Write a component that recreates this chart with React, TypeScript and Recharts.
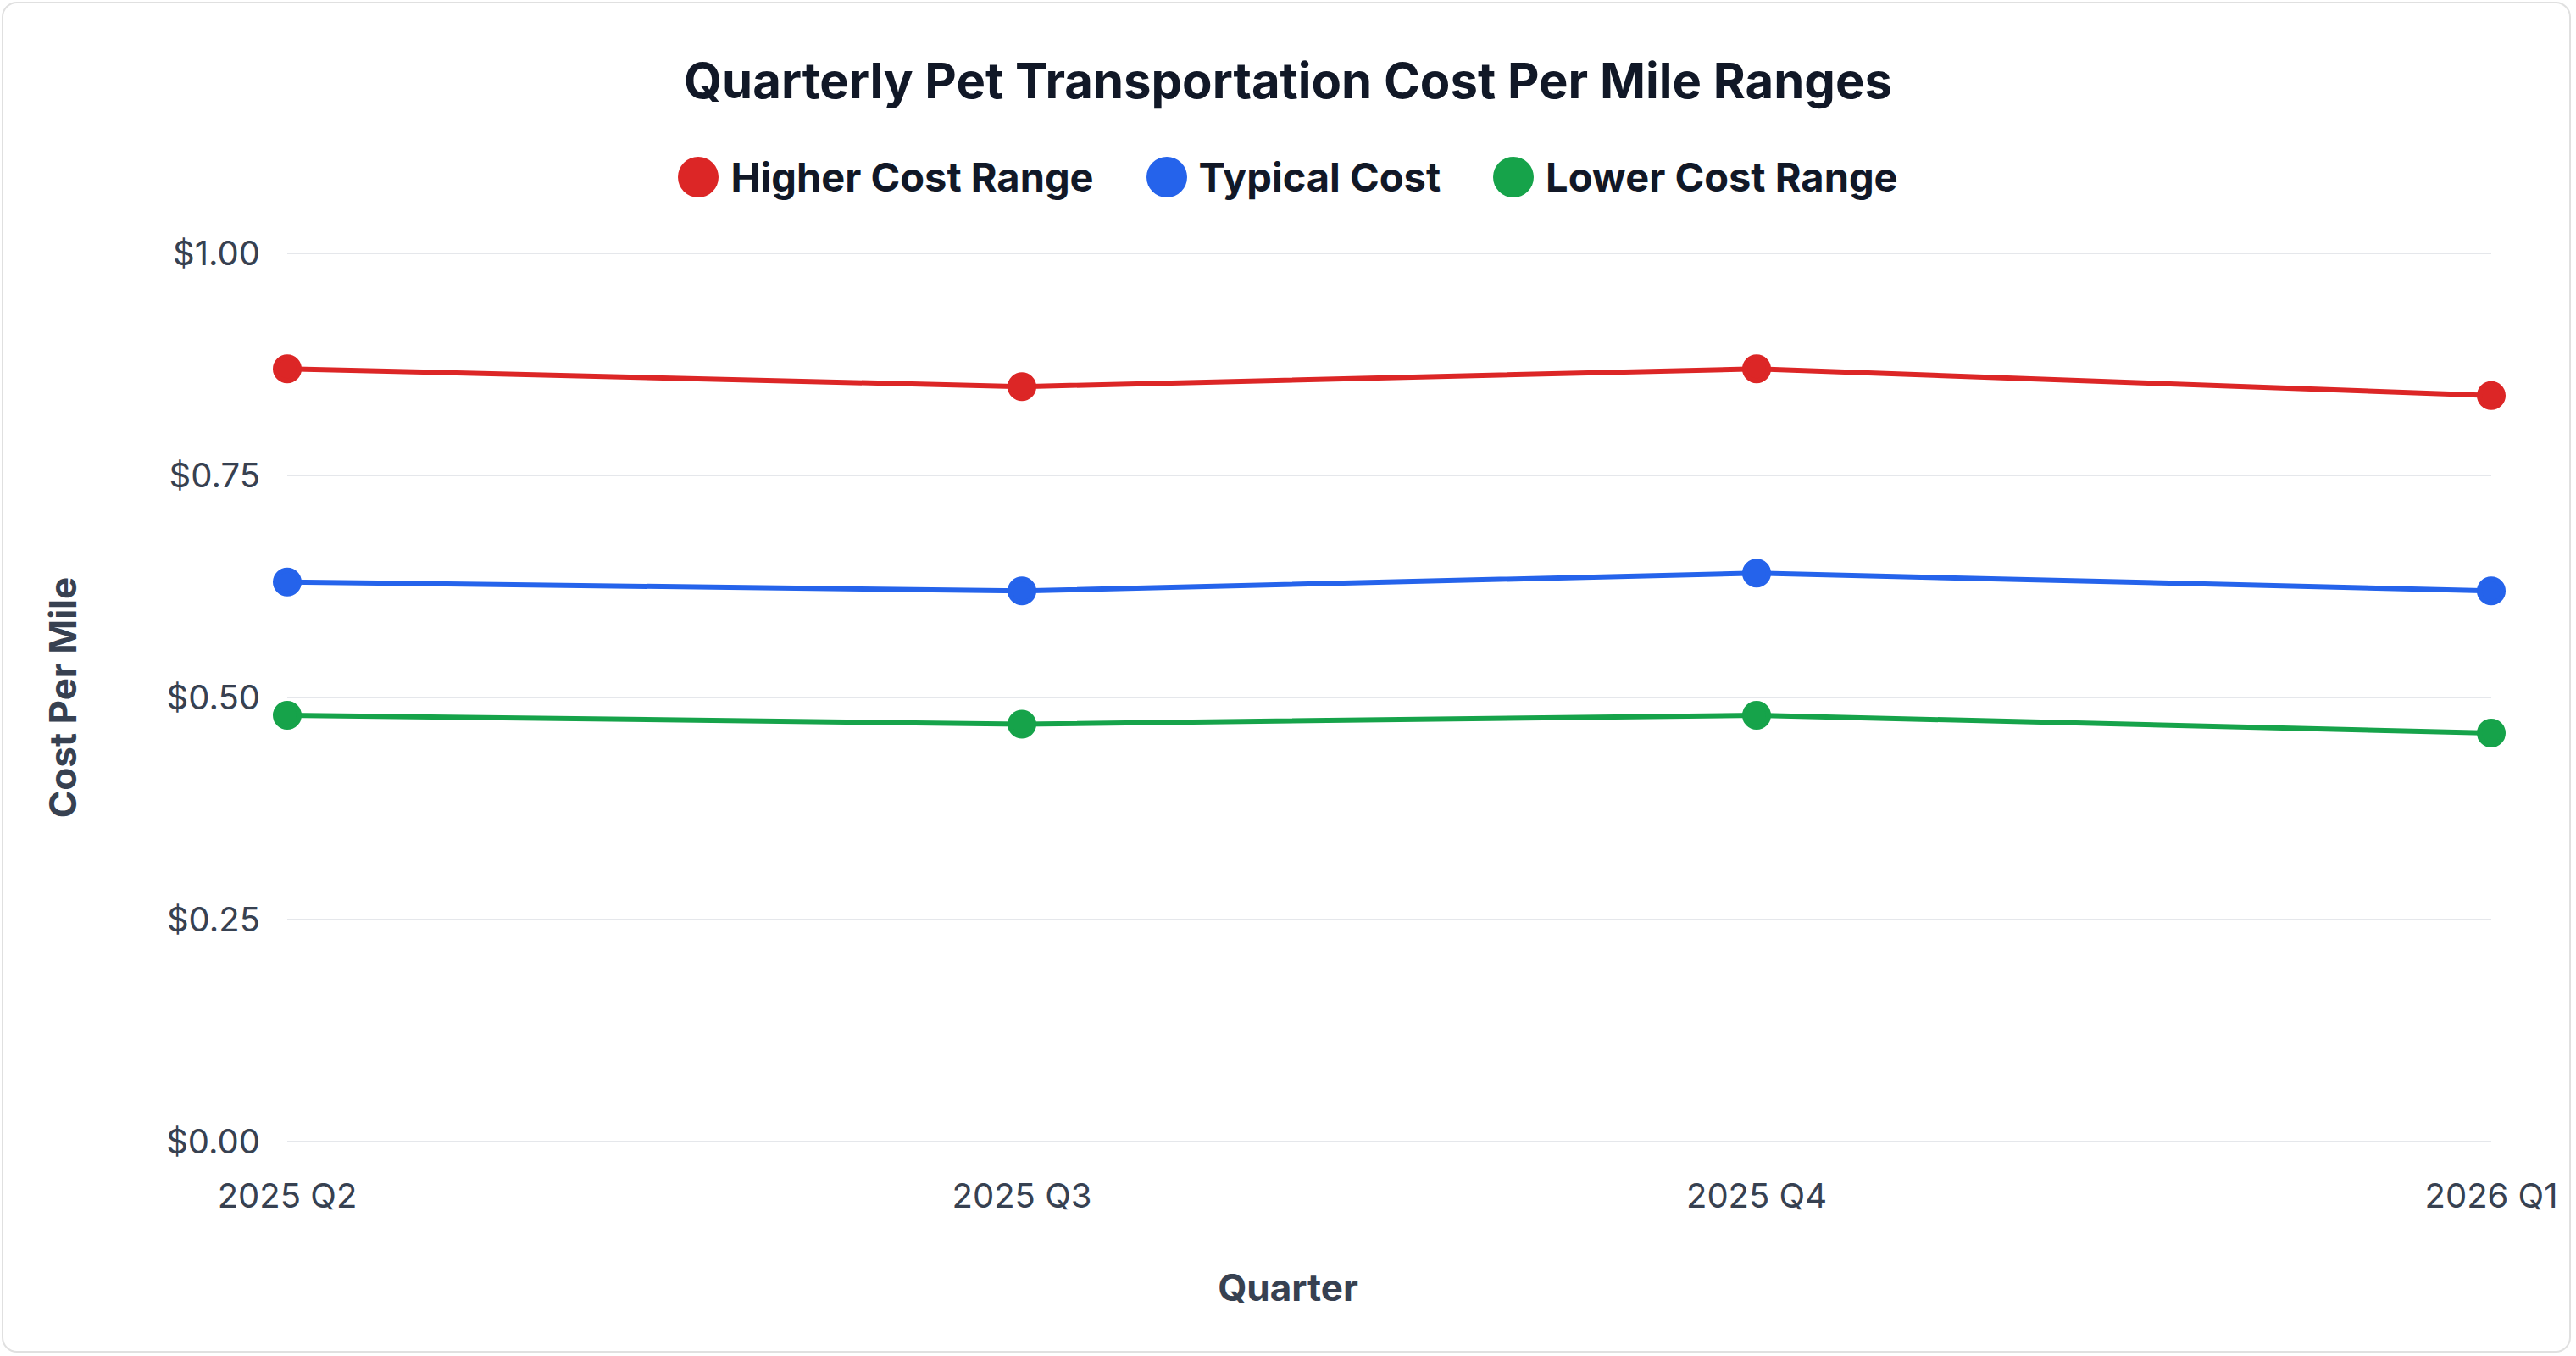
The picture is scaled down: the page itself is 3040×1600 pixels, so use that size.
import React from "react";
import { LineChart, Line, XAxis, YAxis, CartesianGrid } from "recharts";

const quarters = ["2025 Q2", "2025 Q3", "2025 Q4", "2026 Q1"];
const higher = [0.87, 0.85, 0.87, 0.84];
const typical = [0.63, 0.62, 0.64, 0.62];
const lower = [0.48, 0.47, 0.48, 0.46];
const yTicks = [0, 0.25, 0.5, 0.75, 1];
const seriesNames = ["Higher Cost Range", "Typical Cost", "Lower Cost Range"];
const seriesColors = ["#dc2626", "#2563eb", "#16a34a"];

const data = quarters.map((q, i) => ({ q, higher: higher[i], typical: typical[i], lower: lower[i] }));
const FONT = "Inter, 'Helvetica Neue', Arial, sans-serif";

export default function App() {
  return (
    <div style={{ position: "absolute", left: 0, top: 0, width: 3040, height: 1600, background: "#fff" }}>
      <div style={{ position: "absolute", left: 2, top: 2, width: 3032, height: 1594, border: "2px solid #e0e0e0", borderRadius: 18, boxSizing: "border-box" }} />
      <div style={{ position: "absolute", top: 60, width: 3040, textAlign: "center", fontFamily: FONT, fontWeight: 700, fontSize: 58, color: "#111827" }}>
        Quarterly Pet Transportation Cost Per Mile Ranges
      </div>
      <div style={{ position: "absolute", top: 180, width: 3040, display: "flex", justifyContent: "center", gap: 62, fontFamily: FONT, fontWeight: 700, fontSize: 47, color: "#111827" }}>
        {seriesNames.map((n, i) => (
          <div key={n} style={{ display: "flex", alignItems: "center" }}>
            <span style={{ width: 48, height: 48, borderRadius: 24, background: seriesColors[i], display: "inline-block", marginRight: 14 }} />
            {n}
          </div>
        ))}
      </div>
      <div style={{ position: "absolute", top: 1492, width: 3040, textAlign: "center", fontFamily: FONT, fontWeight: 700, fontSize: 44, color: "#374151" }}>
        Quarter
      </div>
      <LineChart width={3040} height={1600} data={data} margin={{ top: 299, right: 100, bottom: 223, left: 0 }}>
        <CartesianGrid vertical={false} stroke="#e5e7eb" strokeWidth={2} />
        <XAxis dataKey="q" tickLine={false} axisLine={false} padding={{ left: 0, right: 0 }} interval={0}
          tick={{ fontFamily: FONT, fontSize: 40, fill: "#374151" }} dy={42} />
        <YAxis width={339} domain={[0, 1]} ticks={yTicks} tickLine={false} axisLine={false}
          tickFormatter={(v: number) => `$${v.toFixed(2)}`} tick={{ fontFamily: FONT, fontSize: 40, fill: "#374151" }} dx={-24}
          label={{ value: "Cost Per Mile", angle: -90, position: "insideLeft", offset: 74, style: { textAnchor: "middle", fontFamily: FONT, fontSize: 44, fontWeight: 700, fill: "#374151" } }} />
        <Line dataKey="higher" name={seriesNames[0]} stroke={seriesColors[0]} strokeWidth={6} dot={{ r: 14, fill: seriesColors[0], stroke: seriesColors[0] }} isAnimationActive={false} />
        <Line dataKey="typical" name={seriesNames[1]} stroke={seriesColors[1]} strokeWidth={6} dot={{ r: 14, fill: seriesColors[1], stroke: seriesColors[1] }} isAnimationActive={false} />
        <Line dataKey="lower" name={seriesNames[2]} stroke={seriesColors[2]} strokeWidth={6} dot={{ r: 14, fill: seriesColors[2], stroke: seriesColors[2] }} isAnimationActive={false} />
      </LineChart>
    </div>
  );
}
